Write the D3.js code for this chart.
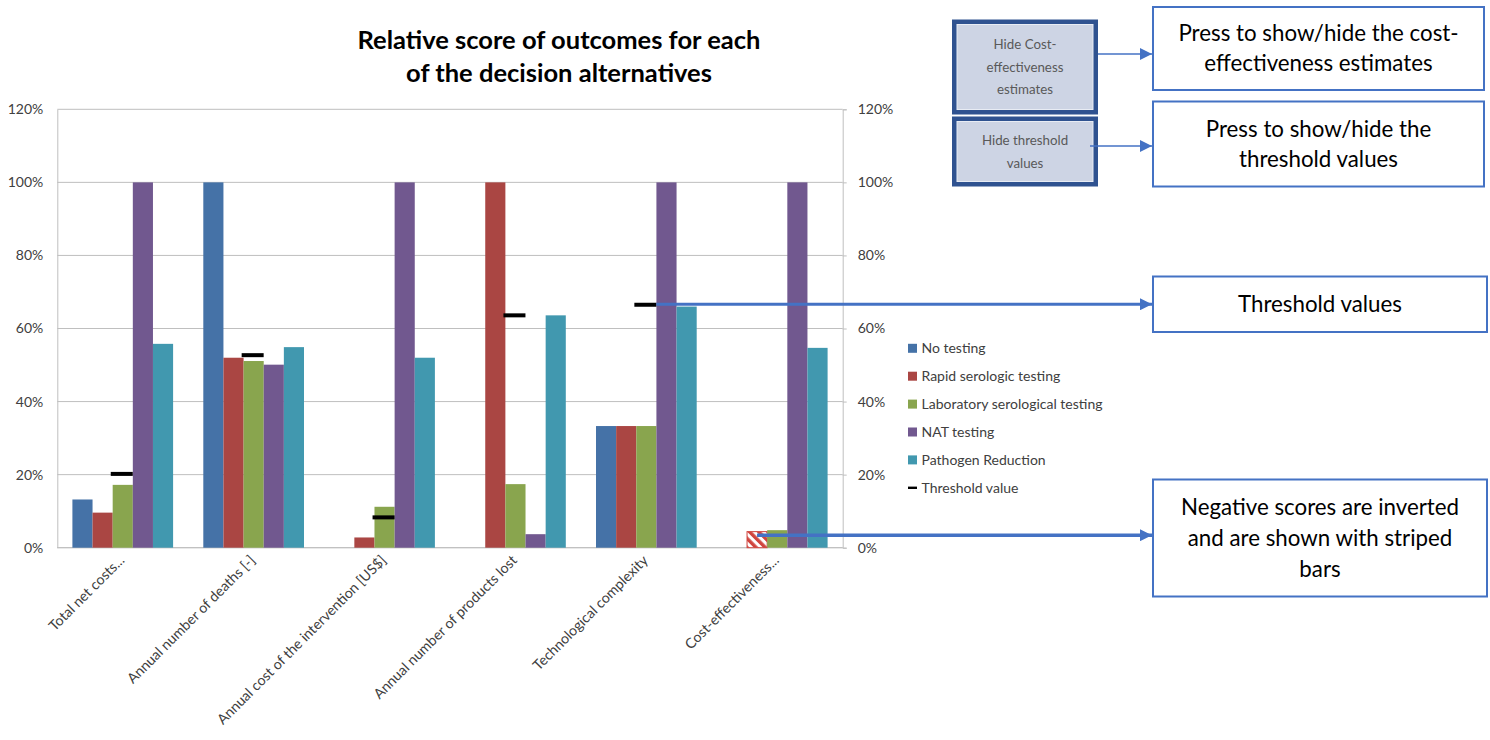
<!DOCTYPE html>
<html><head><meta charset="utf-8">
<script src="https://cdn.jsdelivr.net/npm/d3@7"></script>
<style>
html,body{margin:0;padding:0;background:#fff;}
svg{display:block;font-family:Lato,"Open Sans",sans-serif;}
</style></head>
<body>
<svg id="chart" width="1490" height="740"></svg>
<script>
// ---------- DATA ----------
const categories = ["Total net costs...", "Annual number of deaths [-]", "Annual cost of the intervention [US$]", "Annual number of products lost", "Technological complexity", "Cost-effectiveness..."];
const seriesNames = ["No testing", "Rapid serologic testing", "Laboratory serological testing", "NAT testing", "Pathogen Reduction"];
const noTesting = [0.132, 1.0, 0, 0, 0.333, 0];
const rapidSerologic = [0.096, 0.52, 0.028, 1.0, 0.333, -0.044];
const labSerological = [0.172, 0.511, 0.112, 0.174, 0.333, 0.048];
const natTesting = [1.0, 0.501, 1.0, 0.037, 1.0, 1.0];
const pathogenReduction = [0.558, 0.549, 0.52, 0.636, 0.66, 0.547];
const thresholdValues = [0.202, 0.527, 0.083, 0.636, 0.665, null];
const yTicks = [0, 0.2, 0.4, 0.6, 0.8, 1.0, 1.2];
const seriesColors = ["#4572A7", "#AA4643", "#89A54E", "#71588F", "#4198AF"];
const titleLines = ["Relative score of outcomes for each", "of the decision alternatives"];

const seriesValues = [noTesting, rapidSerologic, labSerological, natTesting, pathogenReduction];

// ---------- LAYOUT ----------
const svg = d3.select("#chart");
const plot = {left: 57.3, right: 842.7, top: 109.3, bottom: 547.7};
const x0 = d3.scaleBand().domain(categories).range([plot.left, plot.right]).padding(0);
const x1 = d3.scaleBand().domain(seriesNames).range([0, x0.bandwidth()]).paddingInner(0).paddingOuter(0.75);
const y = d3.scaleLinear().domain([0, 1.2]).range([plot.bottom, plot.top]);
const color = d3.scaleOrdinal().domain(seriesNames).range(seriesColors);

svg.append("rect").attr("width", 1490).attr("height", 740).attr("fill", "#fff");

const defs = svg.append("defs");
const pat = defs.append("pattern").attr("id", "stripeRed").attr("patternUnits", "userSpaceOnUse")
  .attr("width", 6.5).attr("height", 6.5).attr("patternTransform", "rotate(-45)");
pat.append("rect").attr("width", 6.5).attr("height", 6.5).attr("fill", "#fff");
pat.append("rect").attr("width", 3.4).attr("height", 6.5).attr("fill", "#D0443E");

// arrow marker
defs.append("marker").attr("id", "arrowBlue").attr("viewBox", "0 0 10 10").attr("refX", 10).attr("refY", 5)
  .attr("markerUnits", "userSpaceOnUse").attr("markerWidth", 14).attr("markerHeight", 12).attr("orient", "auto")
  .append("path").attr("d", "M0,0 L10,5 L0,10 Z").attr("fill", "#4472C4");

// title
svg.append("text").attr("x", 559).attr("y", 49).attr("text-anchor", "middle")
  .attr("font-weight", "bold").attr("font-size", 25.5).attr("fill", "#000")
  .selectAll("tspan").data(titleLines).join("tspan")
  .attr("x", 559).attr("dy", (d, i) => i === 0 ? 0 : 33).text(d => d);

// gridlines
svg.append("g").selectAll("line").data(yTicks).join("line")
  .attr("x1", plot.left).attr("x2", plot.right)
  .attr("y1", d => y(d)).attr("y2", d => y(d))
  .attr("stroke", "#BFBFBF").attr("stroke-width", 1);

// axes
const leftAxis = d3.axisLeft(y).tickValues(yTicks).tickFormat(d3.format(".0%")).tickSize(0).tickPadding(14);
const gl = svg.append("g").attr("transform", `translate(${plot.left},0)`).call(leftAxis);
const rightAxis = d3.axisRight(y).tickValues(yTicks).tickFormat(d3.format(".0%")).tickSize(4).tickPadding(11);
const gr = svg.append("g").attr("transform", `translate(${plot.right},0)`).call(rightAxis);
[gl, gr].forEach(g => {
  g.select(".domain").attr("stroke", "#BFBFBF");
  g.selectAll(".tick line").attr("stroke", "#BFBFBF");
  g.selectAll("text").attr("font-family", "Lato, sans-serif").attr("font-size", 14).attr("fill", "#404040");
});

// x axis line
svg.append("line").attr("x1", plot.left).attr("x2", plot.right).attr("y1", plot.bottom).attr("y2", plot.bottom)
  .attr("stroke", "#BFBFBF");

// bars
const groups = svg.append("g").selectAll("g").data(categories).join("g")
  .attr("transform", d => `translate(${x0(d)},0)`);
groups.selectAll("rect").data((c, ci) => seriesNames.map((s, si) => ({s, v: seriesValues[si][ci]})))
  .join("rect")
  .filter(d => d.v !== 0)
  .attr("x", d => x1(d.s))
  .attr("width", x1.bandwidth())
  .attr("y", d => y(Math.abs(d.v)))
  .attr("height", d => y(0) - y(Math.abs(d.v)))
  .attr("fill", d => d.v < 0 ? "url(#stripeRed)" : color(d.s))
  .attr("stroke", d => d.v < 0 ? "#D0443E" : "none")
  .attr("stroke-width", 1);

// threshold markers
const thW = 22;
svg.append("g").selectAll("rect").data(categories.map((c, i) => ({c, v: thresholdValues[i]})).filter(d => d.v !== null))
  .join("rect")
  .attr("x", d => x0(d.c) + x0.bandwidth() / 2 - thW / 2 - 1)
  .attr("y", d => y(d.v) - 2)
  .attr("width", thW).attr("height", 4).attr("fill", "#000");

// x labels
svg.append("g").selectAll("text").data(categories).join("text")
  .attr("transform", d => `translate(${x0(d) + x0.bandwidth() / 2 - 1},${plot.bottom + 10}) rotate(-45)`)
  .attr("text-anchor", "end").attr("dy", "0.35em")
  .attr("font-size", 14.2).attr("fill", "#404040").text(d => d);

// legend
const legendItems = seriesNames.concat(["Threshold value"]);
const lg = svg.append("g").attr("transform", "translate(908,348.3)");
const li = lg.selectAll("g").data(legendItems).join("g").attr("transform", (d, i) => `translate(0,${i * 27.9})`);
li.each(function (d, i) {
  const g = d3.select(this);
  if (i < 5) g.append("rect").attr("x", 0).attr("y", -4.5).attr("width", 9).attr("height", 9).attr("fill", color(d));
  else g.append("rect").attr("x", 0).attr("y", -1.2).attr("width", 9).attr("height", 2.4).attr("fill", "#000");
  g.append("text").attr("x", 13.5).attr("dy", "0.35em").attr("font-size", 14).attr("fill", "#404040").text(d);
});

// ---------- ANNOTATIONS ----------
function box(x, yTop, w, h, lines, fs, lh) {
  svg.append("rect").attr("x", x).attr("y", yTop).attr("width", w).attr("height", h)
    .attr("fill", "#fff").attr("stroke", "#4472C4").attr("stroke-width", 2);
  const cy = yTop + h / 2;
  const t = svg.append("text").attr("text-anchor", "middle").attr("font-size", fs).attr("fill", "#000");
  lines.forEach((l, i) => {
    t.append("tspan").attr("x", x + w / 2).attr("y", cy + (i - (lines.length - 1) / 2) * lh).attr("dy", "0.35em").text(l);
  });
}
function button(x, yTop, w, h, lines, lh) {
  svg.append("rect").attr("x", x).attr("y", yTop).attr("width", w).attr("height", h).attr("fill", "#2F5290");
  svg.append("rect").attr("x", x + 5).attr("y", yTop + 5).attr("width", w - 10).attr("height", h - 10)
    .attr("fill", "#CDD4E4").attr("stroke", "#E8ECF4").attr("stroke-width", 1);
  const cy = yTop + h / 2;
  const t = svg.append("text").attr("text-anchor", "middle").attr("font-size", 13.3).attr("fill", "#595959");
  lines.forEach((l, i) => {
    t.append("tspan").attr("x", x + w / 2).attr("y", cy + (i - (lines.length - 1) / 2) * lh).attr("dy", "0.35em").text(l);
  });
}
function arrow(xa, ya, xb, yb, sw) {
  svg.append("line").attr("x1", xa).attr("y1", ya).attr("x2", xb).attr("y2", yb)
    .attr("stroke", "#4472C4").attr("stroke-width", sw).attr("marker-end", "url(#arrowBlue)");
}

button(952, 19.5, 146, 95, ["Hide Cost-", "effectiveness", "estimates"], 22.5);
button(952, 116.5, 146, 70, ["Hide threshold", "values"], 23);
arrow(1098, 54, 1152, 54, 1.5);
arrow(1090, 146, 1152, 146, 1.5);
box(1153, 7, 331, 83, ["Press to show/hide the cost-", "effectiveness estimates"], 22.3, 30);
box(1153, 101.5, 331, 85, ["Press to show/hide the", "threshold values"], 22.3, 30);
box(1153, 276.5, 334, 55.5, ["Threshold values"], 22.3, 30);
box(1153, 479.5, 334, 117, ["Negative scores are inverted", "and are shown with striped", "bars"], 22.3, 31);

// connectors tied to data positions
const thX = x0(categories[4]) + x0.bandwidth() / 2 + thW / 2 - 1;
arrow(thX, y(thresholdValues[4]) - 0.5, 1152, y(thresholdValues[4]) - 0.5, 3);
const negX = x0(categories[5]) + x1(seriesNames[1]) + 10;
arrow(negX, y(0) - 12.5, 1152, y(0) - 12.5, 3.5);
</script>
</body></html>
